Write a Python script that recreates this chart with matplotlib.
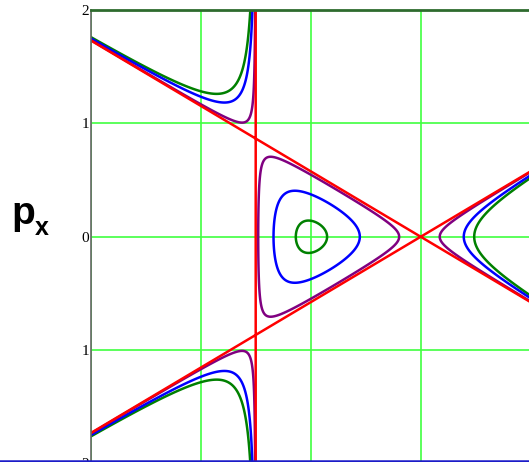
import numpy as np
import matplotlib.pyplot as plt
from matplotlib.lines import Line2D

# Niveles de energía (Hénon-Heiles, corte y=0) y sus colores
niveles = [0.01, 0.07, 0.15, 1.0 / 6.0]
colores = ['#008000', '#0000ff', '#800080', '#ff0000']

# Rango del diagrama de fases
x_lim = (-2, 2)
p_lim = (-2, 2)
ticks_p = [-2, -1, 0, 1, 2]
etiquetas_p = ['2', '1', '0', '1', '2']
ticks_x = [-2, -1, 0, 1, 2]

# Malla para evaluar el hamiltoniano
x = np.linspace(-2, 2.1, 1200)
p = np.linspace(-2.1, 2.1, 1200)
X, P = np.meshgrid(x, p)
H = (X**2 + P**2) / 2 + X * P**2 - X**3 / 3

fig = plt.figure(figsize=(5.29, 4.62), dpi=100)
ax = fig.add_axes([90.7 / 529, -1.5 / 462, 440 / 529, 453.5 / 462])

ax.contour(X, P, H, levels=niveles, colors=colores, linewidths=1.8)

ax.set_xlim(*x_lim)
ax.set_ylim(*p_lim)
ax.set_xticks(ticks_x)
ax.set_yticks(ticks_p)
ax.set_yticklabels(etiquetas_p, family='Liberation Serif', fontsize=11)
ax.set_xticklabels([])
ax.tick_params(length=0, pad=1)
ax.grid(True, color='#40ff40', linewidth=1.2)
ax.set_axisbelow(True)

for lado in ['right', 'bottom']:
    ax.spines[lado].set_visible(False)
ax.spines['left'].set_color('#666666')
ax.spines['left'].set_linewidth(1.2)
ax.spines['top'].set_color('#2e6b2e')
ax.spines['top'].set_linewidth(2)

# etiqueta p_x (p grande y subíndice x)
fig.text(11 / 529, 1 - 224 / 462, 'p', fontsize=28, fontweight='bold',
         family='Liberation Sans', va='baseline', ha='left')
fig.text(34.5 / 529, 1 - 235 / 462, 'x', fontsize=18, fontweight='bold',
         family='Liberation Sans', va='baseline', ha='left')

# línea azul inferior
fig.add_artist(Line2D([0, 1], [1.2 / 462, 1.2 / 462], color='#1c1cc8',
                      linewidth=1.8, transform=fig.transFigure))

fig.savefig('out.png', dpi=100)
